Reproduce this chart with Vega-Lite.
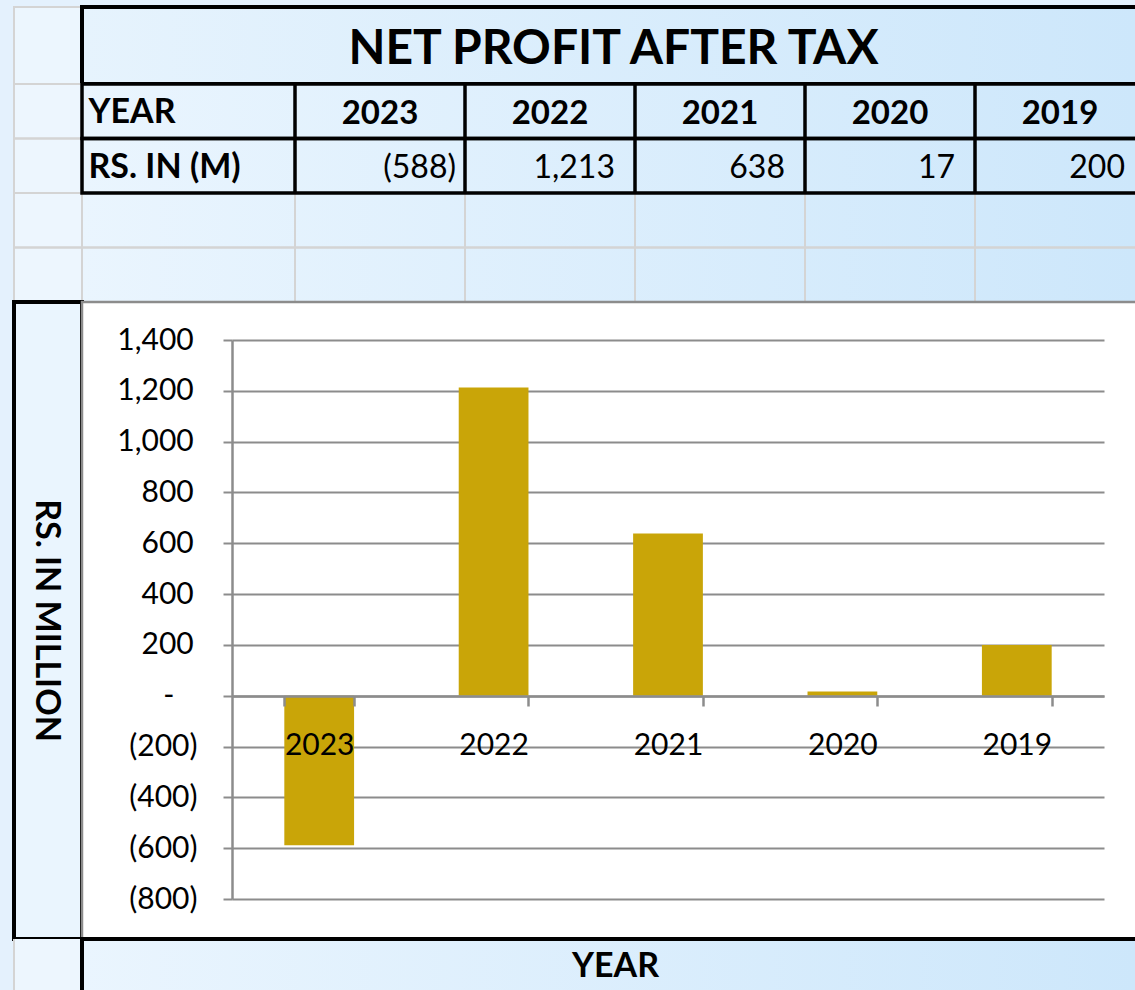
{
  "$schema": "https://vega.github.io/schema/vega-lite/v6.json",
  "background": "#e4f1fd",
  "padding": {"left": 12, "top": 5, "right": 0, "bottom": 0},
  "config": {
    "font": "Lato",
    "view": {"stroke": null},
    "concat": {"spacing": 0},
    "text": {"font": "Lato", "color": "#000000"},
    "axis": {"labelFont": "Lato", "labelColor": "#000000", "titleFont": "Lato"}
  },
  "datasets": {
    "npat": [
      {"year": "2023", "value": -588},
      {"year": "2022", "value": 1213},
      {"year": "2021", "value": 638},
      {"year": "2020", "value": 17},
      {"year": "2019", "value": 200}
    ],
    "rows": [
      {"row": "YEAR"},
      {"row": "RS. IN (M)"},
      {"row": "e1"},
      {"row": "e2"}
    ]
  },
  "columns": 2,
  "spacing": 0,
  "bounds": "flush",
  "concat": [
    {
      "width": 68, "height": 77,
      "view": {"fill": "#ecf6fe", "stroke": "#d4d4d4", "strokeWidth": 2},
      "data": {"values": [{}]},
      "mark": {"type": "text"},
      "encoding": {"text": {"value": ""}}
    },
    {
      "width": 1053, "height": 77,
      "view": {"fill": {"gradient": "linear", "x1": 0, "y1": 0, "x2": 1, "y2": 0, "stops": [{"offset": 0, "color": "#e6f3fd"}, {"offset": 1, "color": "#cde7fb"}]}, "stroke": "#000000", "strokeWidth": 4, "strokeDash": [1053, 77, 1130]},
      "data": {"values": [{"t": "NET PROFIT AFTER TAX"}]},
      "mark": {"type": "text", "fontSize": 48, "fontWeight": "bold", "dx": 5, "dy": 4},
      "encoding": {"text": {"field": "t"}}
    },
    {
      "width": 68, "height": 218,
      "view": {"fill": "#edf6fe"},
      "data": {"name": "rows"},
      "mark": {"type": "rect", "fill": "transparent", "stroke": "#d4d4d4", "strokeWidth": 2},
      "encoding": {
        "y": {"field": "row", "type": "nominal", "sort": null, "axis": null, "scale": {"domain": ["YEAR", "RS. IN (M)", "e1", "e2"], "padding": 0}}
      }
    },
    {
      "width": 1053, "height": 218,
      "view": {"fill": {"gradient": "linear", "x1": 0, "y1": 0, "x2": 1, "y2": 0, "stops": [{"offset": 0, "color": "#eaf5fe"}, {"offset": 1, "color": "#cde7fb"}]}},
      "layer": [
        {
          "data": {"name": "rows"},
          "transform": [{"filter": "datum.row == 'e1' || datum.row == 'e2'"}],
          "mark": {"type": "rect", "fill": "transparent", "stroke": "#d4d4d4", "strokeWidth": 2, "strokeDash": [1053, 54.5, 1107.5]},
          "encoding": {
            "y": {"field": "row", "type": "nominal", "sort": null, "title": null,
                  "scale": {"domain": ["YEAR", "RS. IN (M)", "e1", "e2"], "padding": 0},
                  "axis": {"orient": "left", "domain": false, "ticks": false, "tickSize": 0, "grid": false, "labelAlign": "left", "labelPadding": -6, "labelFontSize": 34, "labelFontWeight": "bold", "labelLimit": 400, "labelOffset": 2, "labelExpr": "datum.value == 'e1' || datum.value == 'e2' ? '' : datum.value", "zindex": 1}}
          }
        },
        {
          "data": {"name": "npat"},
          "mark": {"type": "rect", "fill": "transparent", "stroke": "#d4d4d4", "strokeWidth": 2, "strokeDash": [0, 394.5, 54.5], "clip": true},
          "encoding": {
            "x": {"field": "year", "type": "nominal", "sort": null, "axis": null, "scale": {"range": [213, 1063], "padding": 0}},
            "y": {"datum": "e1", "type": "nominal"}
          }
        },
        {
          "data": {"name": "npat"},
          "mark": {"type": "rect", "fill": "transparent", "stroke": "#d4d4d4", "strokeWidth": 2, "strokeDash": [0, 394.5, 54.5], "clip": true},
          "encoding": {
            "x": {"field": "year", "type": "nominal", "sort": null, "axis": null},
            "y": {"datum": "e2", "type": "nominal"}
          }
        },
        {
          "data": {"name": "rows"},
          "transform": [{"filter": "datum.row == 'YEAR' || datum.row == 'RS. IN (M)'"}],
          "mark": {"type": "rect", "fill": "transparent", "stroke": "#000000", "strokeWidth": 3.5, "strokeDash": [1053, 54.5, 1107.5]},
          "encoding": {
            "y": {"field": "row", "type": "nominal", "sort": null}
          }
        },
        {
          "data": {"name": "npat"},
          "mark": {"type": "rect", "fill": "transparent", "stroke": "#000000", "strokeWidth": 3.5, "strokeDash": [0, 394.5, 54.5], "clip": true},
          "encoding": {
            "x": {"field": "year", "type": "nominal", "sort": null, "axis": null},
            "y": {"datum": "YEAR", "type": "nominal"}
          }
        },
        {
          "data": {"name": "npat"},
          "mark": {"type": "rect", "fill": "transparent", "stroke": "#000000", "strokeWidth": 3.5, "strokeDash": [0, 394.5, 54.5], "clip": true},
          "encoding": {
            "x": {"field": "year", "type": "nominal", "sort": null, "axis": null},
            "y": {"datum": "RS. IN (M)", "type": "nominal"}
          }
        },
        {
          "data": {"name": "npat"},
          "mark": {"type": "text", "fontSize": 33, "fontWeight": "bold", "dy": 3},
          "encoding": {
            "x": {"field": "year", "type": "nominal", "sort": null, "axis": null},
            "y": {"datum": "YEAR", "type": "nominal"},
            "text": {"field": "year"}
          }
        },
        {
          "data": {"name": "npat"},
          "transform": [{"filter": "datum.value < 0"}],
          "mark": {"type": "text", "fontSize": 32, "align": "right", "dx": -9, "dy": 2},
          "encoding": {
            "x": {"field": "year", "type": "nominal", "sort": null, "bandPosition": 1, "axis": null},
            "y": {"datum": "RS. IN (M)", "type": "nominal"},
            "text": {"field": "value", "type": "quantitative", "format": "(,.0f"}
          }
        },
        {
          "data": {"name": "npat"},
          "transform": [{"filter": "datum.value >= 0"}],
          "mark": {"type": "text", "fontSize": 32, "align": "right", "dx": -20, "dy": 2},
          "encoding": {
            "x": {"field": "year", "type": "nominal", "sort": null, "bandPosition": 1, "axis": null},
            "y": {"datum": "RS. IN (M)", "type": "nominal"},
            "text": {"field": "value", "type": "quantitative", "format": "(,.0f"}
          }
        }
      ]
    },
    {
      "width": 68, "height": 637,
      "view": {"fill": "#eaf5fe", "stroke": "#000000", "strokeWidth": 4},
      "data": {"values": [{"t": "RS. IN MILLION"}]},
      "mark": {"type": "text", "angle": 90, "fontSize": 34, "fontWeight": "bold", "dy": 2},
      "encoding": {"text": {"field": "t"}}
    },
    {
      "width": 1053, "height": 637,
      "view": {"fill": "#ffffff", "stroke": "#8c8c8c", "strokeWidth": 2.5, "strokeDash": [1053, 1690, 637]},
      "data": {"name": "npat"},
      "mark": {"type": "bar", "color": "#C9A508"},
      "encoding": {
        "x": {"field": "year", "type": "nominal", "sort": null, "title": null,
              "scale": {"range": [150, 1022], "paddingInner": 0.6, "paddingOuter": 0.3},
              "axis": {"orient": "bottom", "offset": -243, "grid": false, "domainColor": "#8c8c8c", "domainWidth": 2.5, "tickColor": "#8c8c8c", "tickWidth": 2.5, "tickSize": 10, "tickBand": "extent", "labelAngle": 0, "labelFontSize": 30, "labelPadding": 24, "zindex": 1}},
        "y": {"field": "value", "type": "quantitative", "title": null,
              "scale": {"domain": [-800, 1400], "range": [597, 38], "nice": false},
              "axis": {"values": [-800, -600, -400, -200, 0, 200, 400, 600, 800, 1000, 1200, 1400], "offset": -150, "grid": true, "gridColor": "#8c8c8c", "gridWidth": 2, "domainColor": "#8c8c8c", "domainWidth": 2.5, "tickColor": "#8c8c8c", "tickWidth": 2, "tickSize": 9, "labelFontSize": 30, "labelPadding": 26, "labelLimit": 300, "labelExpr": "datum.value == 0 ? '-\u00a0\u00a0\u00a0\u2060' : (datum.value < 0 ? '(' + format(-datum.value, ',') + ')' : format(datum.value, ',') + '\u2009\u2060')", "zindex": 0}}
      }
    },
    {
      "width": 68, "height": 51,
      "view": {"fill": "#edf6fe", "stroke": "#d4d4d4", "strokeWidth": 2, "strokeDash": [0, 187, 51]},
      "data": {"values": [{}]},
      "mark": {"type": "text"},
      "encoding": {"text": {"value": ""}}
    },
    {
      "width": 1053, "height": 51,
      "view": {"fill": {"gradient": "linear", "x1": 0, "y1": 0, "x2": 1, "y2": 0, "stops": [{"offset": 0, "color": "#eaf5fe"}, {"offset": 1, "color": "#cde7fb"}]}, "stroke": "#000000", "strokeWidth": 4, "strokeDash": [1053, 1104, 51]},
      "data": {"values": [{"t": "YEAR"}]},
      "mark": {"type": "text", "fontSize": 34, "fontWeight": "bold", "dx": 7, "dy": 2},
      "encoding": {"text": {"field": "t"}}
    }
  ]
}
